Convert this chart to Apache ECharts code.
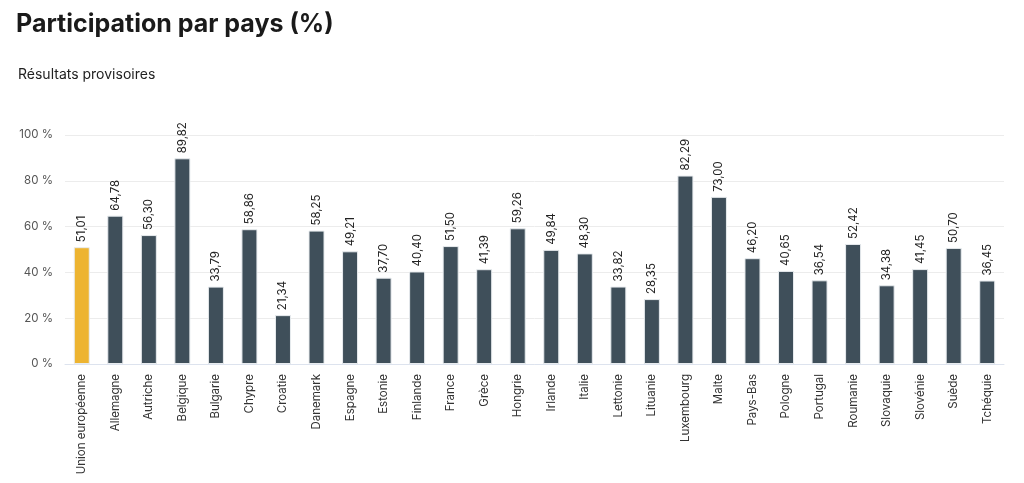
<!DOCTYPE html>
<html><head><meta charset="utf-8">
<script src="https://cdn.jsdelivr.net/npm/echarts@6/dist/echarts.min.js"></script>
<style>html,body{margin:0;padding:0;background:#fff}#c{width:1024px;height:483px}</style>
</head><body><div id="c"></div>
<script>
const categories = ["Union européenne","Allemagne","Autriche","Belgique","Bulgarie","Chypre","Croatie","Danemark","Espagne","Estonie","Finlande","France","Grèce","Hongrie","Irlande","Italie","Lettonie","Lituanie","Luxembourg","Malte","Pays-Bas","Pologne","Portugal","Roumanie","Slovaquie","Slovénie","Suède","Tchéquie"];
const participation = [51.01,64.78,56.30,89.82,33.79,58.86,21.34,58.25,49.21,37.70,40.40,51.50,41.39,59.26,49.84,48.30,33.82,28.35,82.29,73.00,46.20,40.65,36.54,52.42,34.38,41.45,50.70,36.45];
const yTicks = [0,20,40,60,80,100];
const highlight = "Union européenne";

const chart = echarts.init(document.getElementById('c'));
chart.setOption({
  animation:false,
  textStyle:{fontFamily:'Inter, "Open Sans", sans-serif'},
  title:[
    {text:'Participation par pays (%)',left:11,top:7,textStyle:{fontSize:25,fontWeight:'bold',color:'#1a1a1a',fontFamily:'Inter, sans-serif'}},
    {text:'Résultats provisoires',left:13,top:63,textStyle:{fontSize:14,fontWeight:'normal',color:'#222',fontFamily:'Inter, sans-serif'}}
  ],
  grid:{left:65,right:20,top:135,bottom:119},
  xAxis:{type:'category',data:categories,
    axisLine:{lineStyle:{color:'#dde3ee'}},axisTick:{show:false},
    axisLabel:{rotate:90,interval:0,fontSize:11.5,color:'#333',margin:10}},
  yAxis:{type:'value',min:yTicks[0],max:yTicks[yTicks.length-1],interval:20,
    axisLabel:{formatter:'{value} %',fontSize:11.5,color:'#555',margin:12},
    splitLine:{lineStyle:{color:'#ececec'}}},
  series:[{type:'bar',barWidth:16,
    data:participation.map((v,i)=>({value:v,itemStyle:{color:categories[i]===highlight?'#EDB431':'#3F4F5A'}})),
    itemStyle:{borderColor:'#e8ecef',borderWidth:1},
    label:{show:true,position:'top',rotate:90,align:'left',verticalAlign:'middle',distance:5,fontSize:11.5,color:'#222',
      formatter:p=>p.value.toFixed(2).replace('.',',')}}]
});
</script></body></html>
